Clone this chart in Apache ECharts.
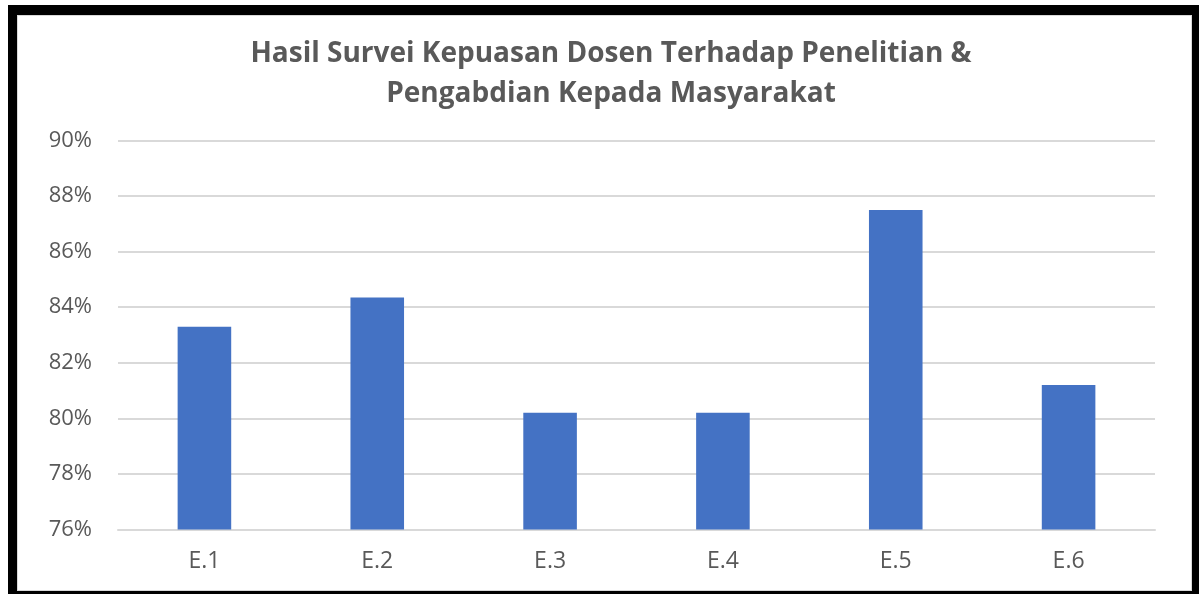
<!DOCTYPE html>
<html>
<head>
<meta charset="utf-8">
<script src="https://cdn.jsdelivr.net/npm/echarts@6/dist/echarts.min.js"></script>
<style>
  html, body { margin: 0; padding: 0; background: #fff; }
  #frame { position: absolute; left: 8px; top: 5px; width: 1191px; height: 589px; background: #000; }
  #inner { position: absolute; left: 17px; top: 15px; width: 1173px; height: 574px; background: #fff; border: 1px solid #d9d9d9; }
  #chart { position: absolute; left: 0; top: 0; width: 1199px; height: 594px; }
</style>
</head>
<body>
<div id="frame"></div>
<div id="inner"></div>
<div id="chart"></div>
<script>
const categories = ["E.1", "E.2", "E.3", "E.4", "E.5", "E.6"];
const values = [83.3, 84.35, 80.2, 80.2, 87.5, 81.2];
const titleText = "Hasil Survei Kepuasan Dosen Terhadap Penelitian &\nPengabdian Kepada Masyarakat";

const chart = echarts.init(document.getElementById("chart"));
chart.setOption({
  animation: false,
  title: {
    text: titleText,
    left: 606,
    top: 29,
    textAlign: "center",
    textStyle: {
      fontFamily: "Open Sans",
      fontSize: 28,
      fontWeight: "bold",
      color: "#595959",
      lineHeight: 40,
    },
  },
  grid: {
    left: 118,
    right: 44,
    top: 140.5,
    bottom: 64.5,
  },
  xAxis: {
    type: "category",
    data: categories,
    axisLine: { show: true, lineStyle: { color: "#d9d9d9", width: 2 } },
    axisTick: { show: false },
    axisLabel: {
      fontFamily: "Open Sans",
      fontSize: 23,
      color: "#595959",
      margin: 20,
    },
  },
  yAxis: {
    type: "value",
    min: 76,
    max: 90,
    interval: 2,
    axisLine: { show: false },
    axisTick: { show: false },
    axisLabel: {
      formatter: "{value}%",
      fontFamily: "Open Sans",
      fontSize: 22,
      color: "#595959",
      margin: 26,
    },
    splitLine: { lineStyle: { color: "#d9d9d9", width: 2 } },
  },
  series: [
    {
      type: "bar",
      data: values,
      barWidth: "31%",
      itemStyle: { color: "#4472C4" },
    },
  ],
});
</script>
</body>
</html>
